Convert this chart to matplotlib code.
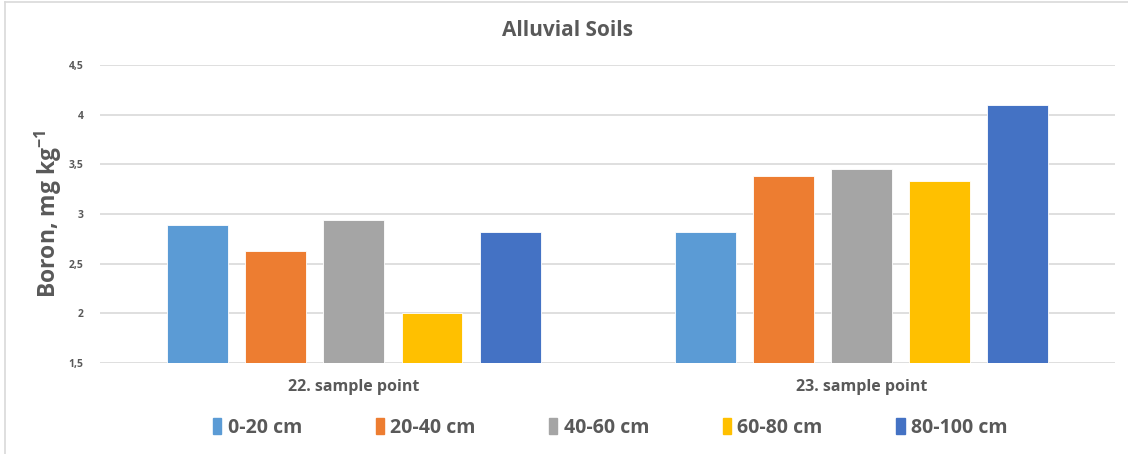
import matplotlib
matplotlib.use("Agg")
import matplotlib.pyplot as plt
from matplotlib.lines import Line2D
import numpy as np

plt.rcParams["font.family"] = ["Open Sans", "DejaVu Sans"]
plt.rcParams["mathtext.fontset"] = "custom"
plt.rcParams["mathtext.rm"] = "Open Sans:bold"

# Boron content by depth at two sampling points
points = ["22. sample point", "23. sample point"]
depths = ["0-20 cm", "20-40 cm", "40-60 cm", "60-80 cm", "80-100 cm"]
boron_0_20 = [2.89, 2.82]
boron_20_40 = [2.63, 3.38]
boron_40_60 = [2.94, 3.45]
boron_60_80 = [2.00, 3.33]
boron_80_100 = [2.82, 4.10]
y_ticks = [1.5, 2, 2.5, 3, 3.5, 4, 4.5]
y_tick_labels = ["1,5", "2", "2,5", "3", "3,5", "4", "4,5"]

series = [boron_0_20, boron_20_40, boron_40_60, boron_60_80, boron_80_100]
colors = ["#5B9BD5", "#ED7D31", "#A5A5A5", "#FFC000", "#4472C4"]
text_gray = "#595959"

fig = plt.figure(figsize=(11.28, 4.54), dpi=100)
ax = fig.add_axes([0.0887, 0.2004, 0.900, 0.6564])

x = np.arange(len(points))
width = 0.12
step = 0.154
for i, (vals, col) in enumerate(zip(series, colors)):
    offs = (i - 2) * step
    ax.bar(x + offs, np.array(vals) - 1.5, width, bottom=1.5, color=col,
           label=depths[i], zorder=3, edgecolor="white", linewidth=0.6)

ax.set_xlim(-0.5, 1.5)
ax.set_ylim(1.5, 4.5)
ax.set_yticks(y_ticks)
ax.set_yticklabels(y_tick_labels, fontsize=7.5, fontweight="bold", color=text_gray)
ax.set_xticks(x)
ax.set_xticklabels(points, fontsize=11.5, fontweight="bold", color=text_gray)
ax.tick_params(axis="both", length=0)
ax.tick_params(axis="y", pad=12)
ax.tick_params(axis="x", pad=11.5)
ax.grid(axis="y", color="#D9D9D9", linewidth=1.2, zorder=0)
for s in ax.spines.values():
    s.set_visible(False)

ax.set_ylabel("Boron, mg kg$^{\\mathrm{-1}}$", fontsize=16.5, fontweight="bold",
              color=text_gray)
ax.yaxis.set_label_coords(-0.036, 0.5)
fig.text(0.5035, 0.932, "Alluvial Soils", ha="center", va="center",
         fontsize=15, fontweight="bold", color=text_gray)

handles = [plt.Rectangle((0, 0), 1, 1, color=c) for c in colors]
fig.legend(handles, depths, loc="center", bbox_to_anchor=(0.541, 0.058),
           ncol=5, frameon=False, handlelength=0.42,
           handleheight=0.9, handletextpad=0.32, columnspacing=3.8,
           labelcolor=text_gray, prop={"weight": "bold", "size": 14})

# light frame along the top and left edges
fig.add_artist(Line2D([0.0044, 0.0044], [0, 0.9956], color="#D9D9D9",
                      linewidth=1.2, transform=fig.transFigure))
fig.add_artist(Line2D([0.0044, 1], [0.9956, 0.9956], color="#D9D9D9",
                      linewidth=1.2, transform=fig.transFigure))

fig.savefig("out.png", dpi=100)
